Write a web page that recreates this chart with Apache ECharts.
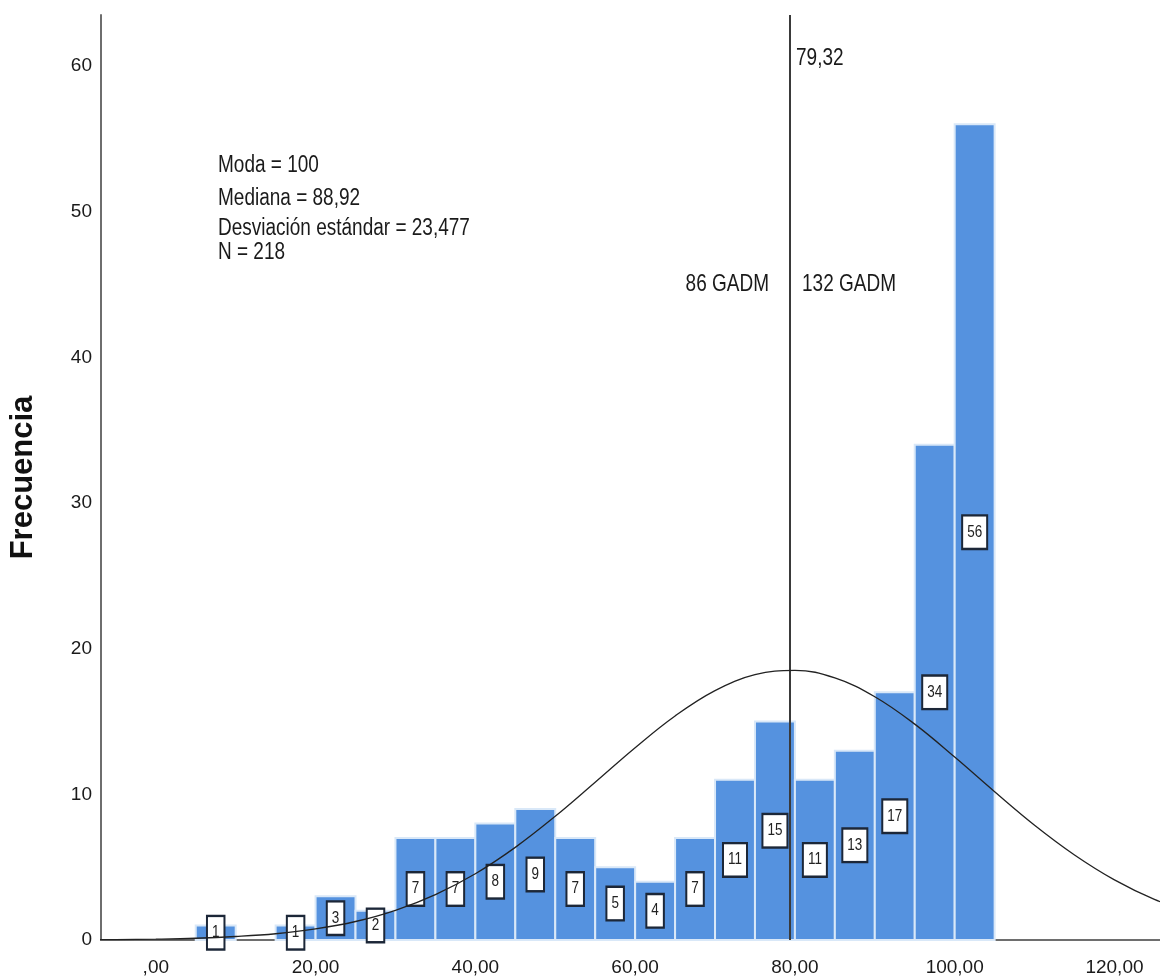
<!DOCTYPE html>
<html>
<head>
<meta charset="utf-8">
<script src="https://cdn.jsdelivr.net/npm/echarts@6/dist/echarts.min.js"></script>
<style>
  html, body { margin: 0; padding: 0; background: #ffffff; }
  #chart { width: 1160px; height: 980px; }
</style>
</head>
<body>
<div id="chart"></div>
<script>
// ---- Data ----
const binStarts = [5, 10, 15, 20, 25, 30, 35, 40, 45, 50, 55, 60, 65, 70, 75, 80, 85, 90, 95, 100];
const binEnds   = [10, 15, 20, 25, 30, 35, 40, 45, 50, 55, 60, 65, 70, 75, 80, 85, 90, 95, 100, 105];
const counts    = [1, 0, 1, 3, 2, 7, 7, 8, 9, 7, 5, 4, 7, 11, 15, 11, 13, 17, 34, 56];

// Normal curve
const curveX = [-10, -5, 0, 5, 10, 15, 20, 25, 30, 35, 40, 45, 50, 55, 60, 65, 70, 75, 80, 85, 90, 95, 100, 105, 110, 115, 120, 125, 130];
const curveY = [0.01, 0.03, 0.06, 0.12, 0.24, 0.43, 0.76, 1.27, 2.04, 3.12, 4.55, 6.36, 8.49, 10.83, 13.2, 15.38, 17.12, 18.21, 18.51, 17.99, 16.7, 14.82, 12.56, 10.18, 7.88, 5.84, 4.13, 2.79, 1.81];

const meanValue = 79.32;
const meanLabel = '79,32';
const leftGroupLabel = '86 GADM';
const rightGroupLabel = '132 GADM';
const statsLines = ['Moda = 100', 'Mediana = 88,92', 'Desviación estándar = 23,477', 'N = 218'];

const xTickValues = [0, 20, 40, 60, 80, 100, 120];
const xTickLabels = [',00', '20,00', '40,00', '60,00', '80,00', '100,00', '120,00'];
const yTickValues = [0, 10, 20, 30, 40, 50, 60];

const FONT = "'Liberation Sans', Arial, sans-serif";

const chart = echarts.init(document.getElementById('chart'), null, { renderer: 'canvas' });

const histData = binStarts.map((s, i) => [s, binEnds[i], counts[i]]);
const curveData = curveX.map((x, i) => [x, curveY[i]]);

function renderBin(params, api) {
  const s = api.value(0), e = api.value(1), c = api.value(2);
  if (!c) return null;
  const p0 = api.coord([s, c]);
  const p1 = api.coord([e, 0]);
  const mid = api.coord([(s + e) / 2, c / 2]);
  return {
    type: 'group',
    children: [
      {
        type: 'rect',
        shape: { x: p0[0], y: p0[1], width: p1[0] - p0[0], height: p1[1] - p0[1] },
        style: { fill: '#5592df', stroke: '#d9e8f8', lineWidth: 2 }
      },
      {
        type: 'text',
        x: mid[0], y: mid[1],
        scaleY: 1.2,
        z2: 10,
        style: {
          text: String(c),
          font: '13.5px ' + FONT,
          fill: '#222',
          align: 'center',
          verticalAlign: 'middle',
          backgroundColor: '#ffffff',
          borderColor: '#1c2738',
          borderWidth: 2,
          padding: [6, 4, 6, 4]
        }
      }
    ]
  };
}

function txt(text, x, y, align) {
  return {
    type: 'text', x: x, y: y, scaleY: 1.22, z: 20,
    style: { text: text, font: '19px ' + FONT, fill: '#1a1a1a', align: align || 'left', verticalAlign: 'middle' }
  };
}

const option = {
  animation: false,
  backgroundColor: '#ffffff',
  grid: { left: 98, right: 0, top: 15, bottom: 40, containLabel: false },
  xAxis: {
    type: 'value',
    min: -6.86, max: 125.7,
    axisLine: { show: true, onZero: false, lineStyle: { color: '#6e6e6e', width: 2 } },
    axisTick: { show: false },
    splitLine: { show: false },
    axisLabel: {
      customValues: xTickValues,
      formatter: v => { const i = xTickValues.indexOf(v); return i >= 0 ? xTickLabels[i] : ''; },
      fontSize: 19, fontFamily: FONT, color: '#1a1a1a', margin: 18
    }
  },
  yAxis: {
    type: 'value',
    min: 0, max: 63.5,
    name: 'Frecuencia',
    nameLocation: 'middle',
    nameRotate: 90,
    nameGap: 62,
    nameTextStyle: { fontSize: 31, fontWeight: 'bold', fontFamily: FONT, color: '#111' },
    axisLine: { show: true, onZero: false, lineStyle: { color: '#6e6e6e', width: 2 } },
    axisTick: { show: false },
    splitLine: { show: false },
    axisLabel: { customValues: yTickValues, fontSize: 19, fontFamily: FONT, color: '#1a1a1a', margin: 9 }
  },
  series: [
    {
      type: 'custom',
      name: 'Frecuencia',
      renderItem: renderBin,
      data: histData,
      encode: { x: [0, 1], y: 2 },
      clip: false,
      z: 2
    },
    {
      type: 'line',
      name: 'Normal',
      data: curveData,
      smooth: 0.4,
      showSymbol: false,
      symbol: 'none',
      lineStyle: { color: '#222', width: 1.3 },
      z: 5,
      silent: true,
      markLine: {
        silent: true,
        symbol: 'none',
        label: { show: false },
        lineStyle: { color: '#3a3a3a', width: 2, type: 'solid' },
        data: [{ xAxis: meanValue }]
      }
    }
  ],
  graphic: [
    txt(statsLines[0], 218, 166),
    txt(statsLines[1], 218, 199),
    txt(statsLines[2], 218, 229),
    txt(statsLines[3], 218, 253),
    txt(meanLabel, 796, 59),
    txt(leftGroupLabel, 769, 285, 'right'),
    txt(rightGroupLabel, 802, 285)
  ]
};

chart.setOption(option);
</script>
</body>
</html>
